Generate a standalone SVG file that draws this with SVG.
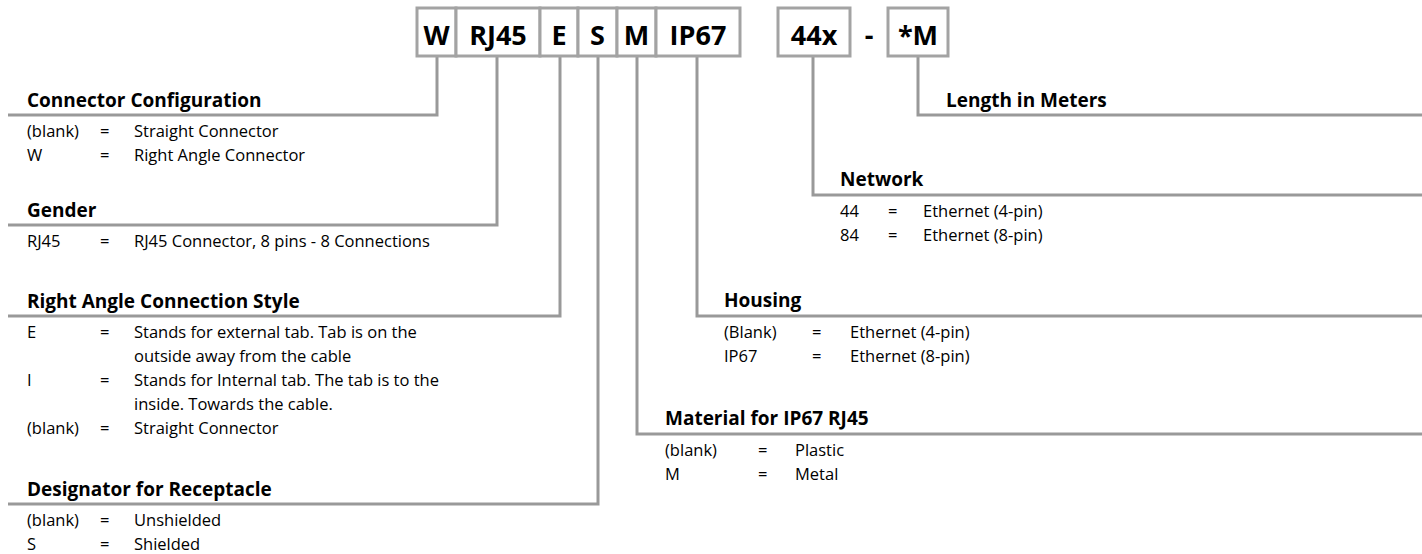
<svg xmlns="http://www.w3.org/2000/svg" width="1422" height="554" viewBox="0 0 1422 554">
<style>
.box{fill:#fff;stroke:#a3a3a3;stroke-width:3}
.code{font-family:"Open Sans","Liberation Sans",sans-serif;font-weight:bold;font-size:27px;fill:#000;text-anchor:middle}
.ln{fill:none;stroke:#999;stroke-width:3}
.h{font-family:"Open Sans","Liberation Sans",sans-serif;font-weight:bold;font-size:19px;fill:#000}
.t{font-family:"Open Sans","Liberation Sans",sans-serif;font-size:16.5px;fill:#000}
</style>
<rect width="1422" height="554" fill="#fff"/>
<g id="connectors">
<polyline class="ln" points="437,56 437,115 8,115"/>
<polyline class="ln" points="497,56 497,225 8,225"/>
<polyline class="ln" points="560,56 560,316 8,316"/>
<polyline class="ln" points="598,56 598,504 8,504"/>
<polyline class="ln" points="637,56 637,434 1422,434"/>
<polyline class="ln" points="697,56 697,316 1422,316"/>
<polyline class="ln" points="813,56 813,195 1422,195"/>
<polyline class="ln" points="918,56 918,115 1422,115"/>
</g>
<g id="code-boxes">
<g id="box-W"><rect class="box" x="417" y="8" width="39" height="48"/><text class="code" x="436.5" y="45">W</text></g>
<g id="box-RJ45"><rect class="box" x="456" y="8" width="84" height="48"/><text class="code" x="498" y="45">RJ45</text></g>
<g id="box-E"><rect class="box" x="540" y="8" width="38" height="48"/><text class="code" x="559" y="45">E</text></g>
<g id="box-S"><rect class="box" x="578" y="8" width="39" height="48"/><text class="code" x="597.5" y="45">S</text></g>
<g id="box-M"><rect class="box" x="617" y="8" width="39" height="48"/><text class="code" x="636.5" y="45">M</text></g>
<g id="box-IP67"><rect class="box" x="656" y="8" width="84" height="48"/><text class="code" x="698" y="45">IP67</text></g>
<g id="box-44x"><rect class="box" x="778" y="8" width="72" height="48"/><text class="code" x="814" y="45">44x</text></g>
<text class="code" x="869" y="45">-</text>
<g id="box-M2"><rect class="box" x="888" y="8" width="60" height="48"/><text class="code" x="918" y="45">*M</text></g>
</g>
<g id="connector-configuration">
<text class="h" x="27" y="107">Connector Configuration</text>
<text class="t" x="27" y="137">(blank)</text><text class="t" x="100" y="137">=</text><text class="t" x="134" y="137">Straight Connector</text>
<text class="t" x="27" y="161">W</text><text class="t" x="100" y="161">=</text><text class="t" x="134" y="161">Right Angle Connector</text>
</g>
<g id="gender">
<text class="h" x="27" y="217">Gender</text>
<text class="t" x="27" y="247">RJ45</text><text class="t" x="100" y="247">=</text><text class="t" x="134" y="247">RJ45 Connector, 8 pins - 8 Connections</text>
</g>
<g id="right-angle-style">
<text class="h" x="27" y="308">Right Angle Connection Style</text>
<text class="t" x="27" y="338">E</text><text class="t" x="100" y="338">=</text><text class="t" x="134" y="338">Stands for external tab. Tab is on the</text>
<text class="t" x="134" y="362">outside away from the cable</text>
<text class="t" x="27" y="386">I</text><text class="t" x="100" y="386">=</text><text class="t" x="134" y="386">Stands for Internal tab. The tab is to the</text>
<text class="t" x="134" y="410">inside. Towards the cable.</text>
<text class="t" x="27" y="434">(blank)</text><text class="t" x="100" y="434">=</text><text class="t" x="134" y="434">Straight Connector</text>
</g>
<g id="designator">
<text class="h" x="27" y="496">Designator for Receptacle</text>
<text class="t" x="27" y="526">(blank)</text><text class="t" x="100" y="526">=</text><text class="t" x="134" y="526">Unshielded</text>
<text class="t" x="27" y="550">S</text><text class="t" x="100" y="550">=</text><text class="t" x="134" y="550">Shielded</text>
</g>
<g id="material">
<text class="h" x="665" y="425">Material for IP67 RJ45</text>
<text class="t" x="665" y="456">(blank)</text><text class="t" x="758" y="456">=</text><text class="t" x="795" y="456">Plastic</text>
<text class="t" x="665" y="480">M</text><text class="t" x="758" y="480">=</text><text class="t" x="795" y="480">Metal</text>
</g>
<g id="housing">
<text class="h" x="724" y="307">Housing</text>
<text class="t" x="724" y="338">(Blank)</text><text class="t" x="812" y="338">=</text><text class="t" x="850" y="338">Ethernet (4-pin)</text>
<text class="t" x="724" y="362">IP67</text><text class="t" x="812" y="362">=</text><text class="t" x="850" y="362">Ethernet (8-pin)</text>
</g>
<g id="network">
<text class="h" x="840" y="186">Network</text>
<text class="t" x="840" y="217">44</text><text class="t" x="888" y="217">=</text><text class="t" x="923" y="217">Ethernet (4-pin)</text>
<text class="t" x="840" y="241">84</text><text class="t" x="888" y="241">=</text><text class="t" x="923" y="241">Ethernet (8-pin)</text>
</g>
<g id="length">
<text class="h" x="946" y="107">Length in Meters</text>
</g>
</svg>
